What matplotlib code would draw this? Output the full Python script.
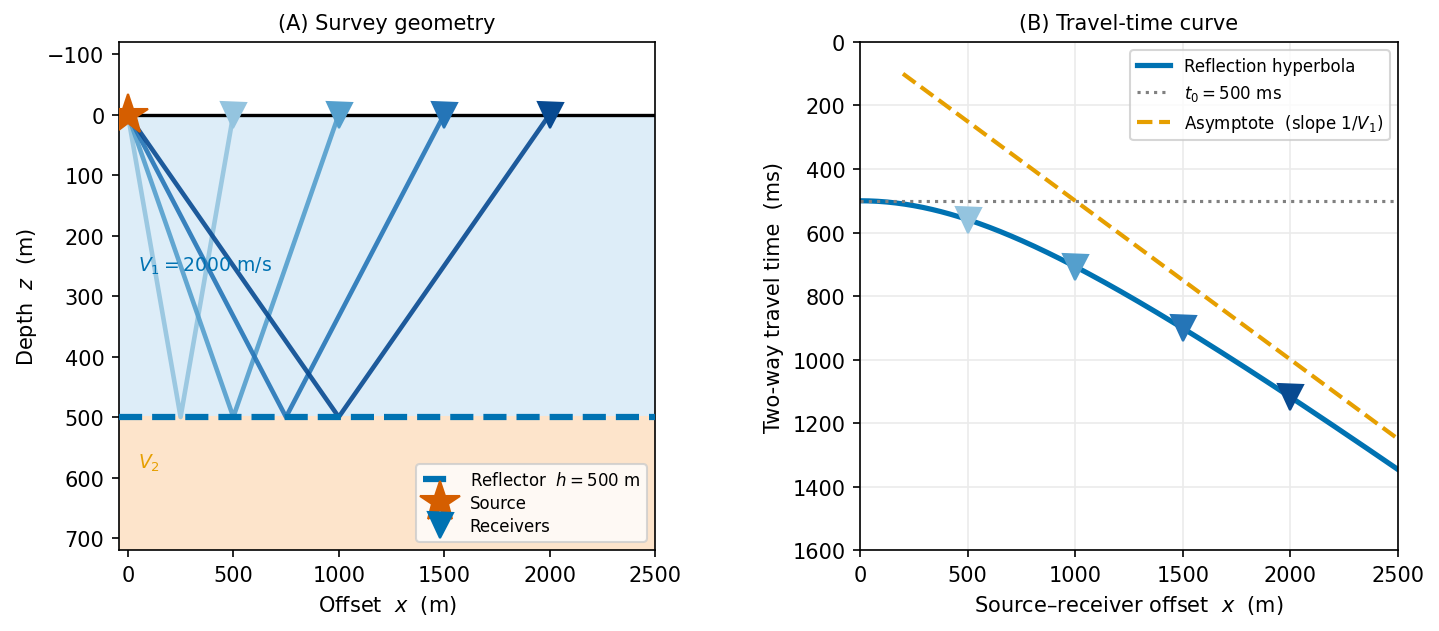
import numpy as np
import matplotlib.pyplot as plt

# survey parameters (from the figure annotations)
V1 = 2000.0          # m/s
h = 500.0            # reflector depth, m
receivers = [500, 1000, 1500, 2000]   # offsets, m
t0_ms = 500
asym_start = 200

blues = plt.cm.Blues(np.linspace(0.4, 0.9, len(receivers)))

fig = plt.figure(figsize=(1439 / 150, 632 / 150), dpi=150)
axA = fig.add_axes([0.0827, 0.128, 0.3725, 0.804])
axB = fig.add_axes([0.5976, 0.128, 0.3739, 0.804])

# ---- (A) survey geometry
axA.axhspan(0, h, color='#ddedf8', zorder=0)
axA.axhspan(h, 720, color='#fde4cb', zorder=0)
axA.axhline(0, color='black', lw=1.6, zorder=2)
for x, c in zip(receivers, blues):
    axA.plot([0, x / 2, x], [0, h, 0], color=c, lw=2.2, alpha=0.9, zorder=3)
    axA.plot(x, 0, marker='v', ms=12, color=c, ls='none', zorder=5)
axA.axhline(h, color='#0072B2', lw=3, ls='--', zorder=4,
            label=r'Reflector  $h = 500$ m')
axA.plot(0, 0, marker='*', ms=20, color='#D55E00', ls='none', zorder=6,
         label='Source')
axA.plot([], [], marker='v', ms=12, color='#0072B2', ls='none', label='Receivers')
axA.text(50, 250, r'$V_1 =$2000 m/s', color='#0072B2', fontsize=9, va='center')
axA.text(50, 575, r'$V_2$', color='#E69F00', fontsize=9, va='center')
axA.set_xlim(-42, 2500)
axA.set_ylim(720, -120)
axA.set_xlabel(r'Offset  $x$  (m)')
axA.set_ylabel(r'Depth  $z$  (m)')
axA.set_title('(A) Survey geometry', fontsize=10)
axA.legend(loc='lower right', fontsize=8, labelspacing=0.3)

# ---- (B) travel-time curve
xs = np.linspace(0, 2500, 300)
t = np.sqrt((t0_ms / 1000) ** 2 + (xs / V1) ** 2) * 1000
axB.plot(xs, t, color='#0072B2', lw=2.5, label='Reflection hyperbola')
axB.axhline(t0_ms, color='grey', ls=':', lw=1.5, label=r'$t_0 = 500$ ms')
xa = np.array([asym_start, 2500])
axB.plot(xa, xa / V1 * 1000, color='#E69F00', ls='--', lw=2,
         label=r'Asymptote  (slope $1/V_1$)')
for x, c in zip(receivers, blues):
    tr = np.sqrt((t0_ms / 1000) ** 2 + (x / V1) ** 2) * 1000
    axB.plot(x, tr, marker='v', ms=12, color=c, ls='none', zorder=5)
axB.set_xlim(0, 2500)
axB.set_ylim(1600, 0)
axB.grid(True, color='#ebebeb', lw=0.8)
axB.set_xlabel(r'Source–receiver offset  $x$  (m)')
axB.set_ylabel('Two-way travel time  (ms)')
axB.set_title('(B) Travel-time curve', fontsize=10)
axB.legend(loc='upper right', fontsize=8)

plt.savefig('out.png', dpi=150)
